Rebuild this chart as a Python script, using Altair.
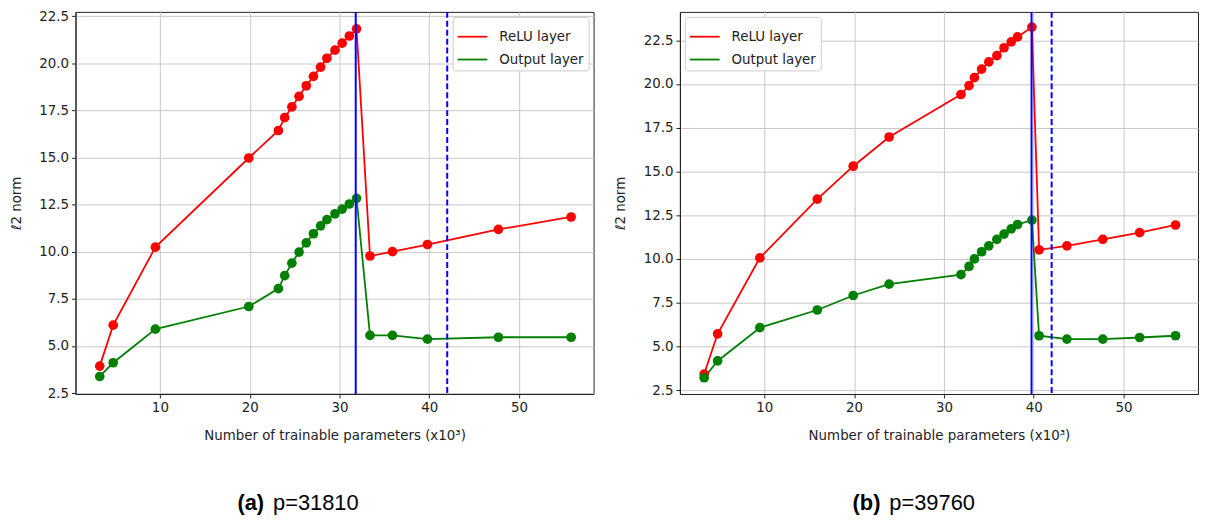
import altair as alt
import pandas as pd

# ---------------- data ----------------
series_names = ["ReLU layer", "Output layer"]
series_colors = ["#ff0000", "#008000"]

# panel (a): p = 31810
x_a = [3.3, 4.8, 9.5, 19.9, 23.2, 23.9, 24.7, 25.5, 26.3, 27.1, 27.9, 28.6, 29.5,
       30.3, 31.1, 31.9, 33.4, 35.9, 39.8, 47.7, 55.8]
relu_a = [3.93, 6.10, 10.24, 14.97, 16.43, 17.11, 17.68, 18.24, 18.80, 19.30, 19.79,
          20.26, 20.69, 21.06, 21.44, 21.82, 9.77, 10.00, 10.38, 11.18, 11.84]
out_a = [3.38, 4.11, 5.89, 7.09, 8.04, 8.73, 9.39, 9.98, 10.47, 10.95, 11.37, 11.70,
         12.01, 12.26, 12.53, 12.83, 5.56, 5.56, 5.36, 5.46, 5.46]
solid_a = [31.81]
dashed_a = [42.0]

# panel (b): p = 39760
x_b = [3.3, 4.8, 9.5, 15.9, 19.9, 23.9, 31.9, 32.8, 33.4, 34.2, 35.0, 35.9, 36.7,
       37.5, 38.2, 39.8, 40.6, 43.7, 47.7, 51.8, 55.8]
relu_b = [3.42, 5.72, 10.06, 13.42, 15.30, 16.97, 19.40, 19.91, 20.36, 20.85, 21.26,
          21.62, 22.07, 22.41, 22.69, 23.25, 10.52, 10.75, 11.12, 11.50, 11.94]
out_b = [3.21, 4.17, 6.07, 7.08, 7.91, 8.56, 9.10, 9.57, 10.00, 10.41, 10.75, 11.12,
         11.42, 11.72, 11.97, 12.22, 5.61, 5.42, 5.42, 5.51, 5.61]
solid_b = [39.76]
dashed_b = [42.0]

x_ticks = [10, 20, 30, 40, 50]
y_ticks = [2.5, 5.0, 7.5, 10.0, 12.5, 15.0, 17.5, 20.0, 22.5]
x_domain = [0.6, 58.3]
y_domain_a = [2.45, 22.72]
y_domain_b = [2.28, 24.12]

x_title = "Number of trainable parameters (x10³)"
y_title = "ℓ2 norm"

FONT = "DejaVu Sans"
FS = 13.5
W, H = 522, 385


def panel(xs, relu, out, solid, dashed, y_dom, legend_orient, tag, caption, tag_x):
    n = len(xs)
    df = pd.DataFrame({
        "x": xs + xs,
        "y": relu + out,
        "series": [series_names[0]] * n + [series_names[1]] * n,
    })
    xsc = alt.Scale(domain=x_domain, nice=False, zero=False)
    ysc = alt.Scale(domain=y_dom, nice=False, zero=False)
    xax = alt.Axis(values=x_ticks, title=x_title, format="d", titlePadding=14)
    yax = alt.Axis(values=y_ticks, title=y_title, format=".1f", titlePadding=15.5)
    legend = alt.Legend(
        title=None, orient=legend_orient, offset=5, fillColor="white",
        strokeColor="#cccccc", cornerRadius=3, padding=4,
        symbolType="stroke", symbolStrokeWidth=1.8, symbolSize=900,
        labelFontSize=FS, labelFont=FONT, labelColor="#222222",
        labelOffset=11, rowPadding=0,
    )
    color = alt.Color("series:N",
                      scale=alt.Scale(domain=series_names, range=series_colors),
                      legend=legend, sort=series_names)
    base = alt.Chart(df).encode(
        x=alt.X("x:Q", scale=xsc, axis=xax),
        y=alt.Y("y:Q", scale=ysc, axis=yax),
        color=color,
    )
    lines = base.mark_line(strokeWidth=1.8, clip=True)
    points = base.mark_circle(size=95, opacity=1, clip=True)
    rule_solid = alt.Chart(pd.DataFrame({"x": solid})).mark_rule(
        color="#0000ff", strokeWidth=2).encode(x=alt.X("x:Q", scale=xsc))
    rule_dash = alt.Chart(pd.DataFrame({"x": dashed})).mark_rule(
        color="#0000ff", strokeWidth=2, strokeDash=[6, 3]).encode(x=alt.X("x:Q", scale=xsc))
    cap_tag = alt.Chart(pd.DataFrame({"t": [tag]})).mark_text(
        font="Liberation Sans", fontSize=22, fontWeight="bold", align="right",
        baseline="alphabetic", color="#000000").encode(
        x=alt.value(tag_x), y=alt.value(502), text="t:N")
    cap_txt = alt.Chart(pd.DataFrame({"t": [caption]})).mark_text(
        font="Liberation Sans", fontSize=22, align="left",
        baseline="alphabetic", color="#000000").encode(
        x=alt.value(tag_x + 9), y=alt.value(502), text="t:N")
    return alt.layer(lines, points, rule_solid, rule_dash, cap_tag, cap_txt).properties(
        width=W, height=H)


left = panel(x_a, relu_a, out_a, solid_a, dashed_a, y_domain_a, "top-right",
             "(a)", "p=31810", 190)
right = panel(x_b, relu_b, out_b, solid_b, dashed_b, y_domain_b, "top-left",
              "(b)", "p=39760", 202)

chart = alt.hconcat(left, right, spacing=18).resolve_scale(
    color="independent", x="independent", y="independent"
).properties(
    padding={"left": 0, "top": -2, "right": 0, "bottom": 0}
).configure_view(
    stroke="#222222", strokeWidth=1
).configure_axis(
    labelFont=FONT, labelFontSize=FS, labelColor="#222222", labelPadding=3,
    titleFont=FONT, titleFontSize=FS, titleFontWeight="normal", titleColor="#222222",
    tickSize=4, tickColor="#222222", tickWidth=1,
    domainColor="#222222", domainWidth=1,
    gridColor="#c8c8c8", gridWidth=1,
)

chart.save("out.html", embed_options={"renderer": "svg", "actions": False})
